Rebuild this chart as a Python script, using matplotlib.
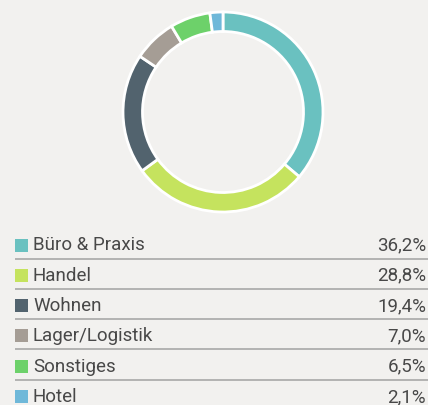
import matplotlib
matplotlib.use('Agg')
import matplotlib.pyplot as plt
from matplotlib.patches import Rectangle

categories = ['Büro & Praxis', 'Handel', 'Wohnen', 'Lager/Logistik', 'Sonstiges', 'Hotel']
shares = [36.2, 28.8, 19.4, 7.0, 6.5, 2.1]
labels = ['36,2%', '28,8%', '19,4%', '7,0%', '6,5%', '2,1%']
colors = ['#6ac1c0', '#c5e35e', '#52636e', '#a59d95', '#6dd16a', '#6fb8d9']

bg = '#f2f1ef'
W, H = 428, 405

fig = plt.figure(figsize=(W / 100, H / 100), dpi=100, facecolor=bg)

# donut
cx, cy, r = 223, 112, 101
ax = fig.add_axes([(cx - r) / W, (H - cy - r) / H, 2 * r / W, 2 * r / H])
ax.set_facecolor(bg)
ax.pie(shares, colors=colors, startangle=90, counterclock=False, radius=1,
       wedgeprops=dict(width=0.195, edgecolor='white', linewidth=2))
ax.set_xlim(-1.01, 1.01)
ax.set_ylim(-1.01, 1.01)
ax.set_aspect('equal')
ax.axis('off')

# legend table
lg = fig.add_axes([0, 0, 1, 1])
lg.set_xlim(0, W)
lg.set_ylim(H, 0)
lg.axis('off')
lg.patch.set_alpha(0)

row0, step = 245, 30.3
for i, (name, val, col) in enumerate(zip(categories, labels, colors)):
    y = row0 + i * step
    lg.add_patch(Rectangle((15, y - 6.5), 13, 13, facecolor=col, edgecolor='none'))
    lg.text(33, y + 0.5, name, fontsize=13.5, family='Roboto',
            color='#484848', va='center', ha='left')
    lg.text(426, y + 0.5, val, fontsize=13.5, family='Roboto',
            color='#484848', va='center', ha='right')
    if i < len(categories) - 1:
        lg.plot([15, W], [y + 13.5, y + 13.5], color='#a8a8a8', linewidth=1.2,
                solid_capstyle='butt')

fig.savefig('out.png', dpi=100, facecolor=bg)
